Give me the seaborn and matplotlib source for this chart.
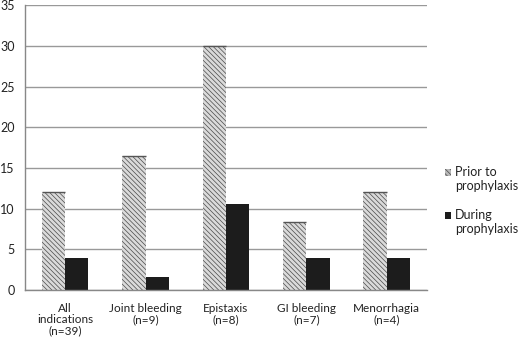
import matplotlib
matplotlib.use("Agg")
import matplotlib.pyplot as plt
import seaborn as sns
import pandas as pd
import numpy as np

categories = ["All\nindications\n(n=39)", "Joint bleeding\n(n=9)", "Epistaxis\n(n=8)",
              "GI bleeding\n(n=7)", "Menorrhagia\n(n=4)"]
series_names = ["Prior to\nprophylaxis", "During\nprophylaxis"]
prior_values = [12.0, 16.5, 30.0, 8.4, 12.0]
during_values = [4.0, 1.6, 10.6, 4.0, 4.0]
y_ticks = [0, 5, 10, 15, 20, 25, 30, 35]

df = pd.DataFrame({
    "category": categories * 2,
    "series": [series_names[0]] * len(categories) + [series_names[1]] * len(categories),
    "value": prior_values + during_values,
})

sns.set_theme(style="white")
plt.rcParams['font.family'] = ['Lato', 'DejaVu Sans']
plt.rcParams['hatch.color'] = '#4a4a4a'
plt.rcParams['hatch.linewidth'] = 0.5

fig = plt.figure(figsize=(5.2, 3.37), dpi=100)
ax = fig.add_axes([0.048, 0.139, 0.773, 0.846])

sns.barplot(data=df, x="category", y="value", hue="series", order=categories,
            hue_order=series_names, palette=["#dadada", "#1c1c1c"], width=0.58,
            saturation=1, ax=ax, legend=True, edgecolor="none", linewidth=0)

HATCH = '\\' * 7
n = len(categories)
for i, p in enumerate(ax.patches[:n]):
    p.set_hatch(HATCH)
    p.set_edgecolor('#4a4a4a')
    p.set_linewidth(0)
    x0, w, h = p.get_x(), p.get_width(), p.get_height()
    ax.plot([x0, x0 + w], [h, h], color='#555555', lw=1, solid_capstyle='butt')

ax.set_ylim(0, 35)
ax.set_xlim(-0.5, n - 0.5)
ax.set_yticks(y_ticks)
ax.set_yticklabels([str(t) for t in y_ticks], fontsize=9, color='#222222')
ax.yaxis.grid(True, color='#999999', linewidth=1)
ax.set_axisbelow(True)
ax.set_xlabel("")
ax.set_ylabel("")
ax.tick_params(axis='x', labelsize=8.5, colors='#222222', length=0, pad=9)
for t in ax.get_xticklabels():
    t.set_linespacing(1.05)
ax.set_xticks(np.arange(-0.5, n, 1.0), minor=True)
ax.tick_params(axis='x', which='minor', length=4, direction='out', color='#888888', width=0.8)
ax.tick_params(axis='y', length=3.5, direction='out', color='#888888', width=0.8, pad=4)
for s in ['top', 'right']:
    ax.spines[s].set_visible(False)
for s in ['left', 'bottom']:
    ax.spines[s].set_color('#888888')
    ax.spines[s].set_linewidth(1)

leg = ax.legend(loc='center left', bbox_to_anchor=(0.855, 0.405), bbox_transform=fig.transFigure,
                frameon=False, fontsize=9.0, handlelength=0.5, handleheight=0.5, labelspacing=1.35,
                handletextpad=0.35, borderaxespad=0.0, borderpad=0.0)
for h in leg.legend_handles:
    h.set_edgecolor('#4a4a4a')
    h.set_y(h.get_y() + 5.0)
leg.legend_handles[0].set_hatch(HATCH)
leg.legend_handles[0].set_linewidth(0)
leg.legend_handles[0].set_facecolor('#b8b8b8')
for t in leg.get_texts():
    t.set_color('#222222')
    t.set_linespacing(1.2)

fig.savefig("out.png", dpi=100)
